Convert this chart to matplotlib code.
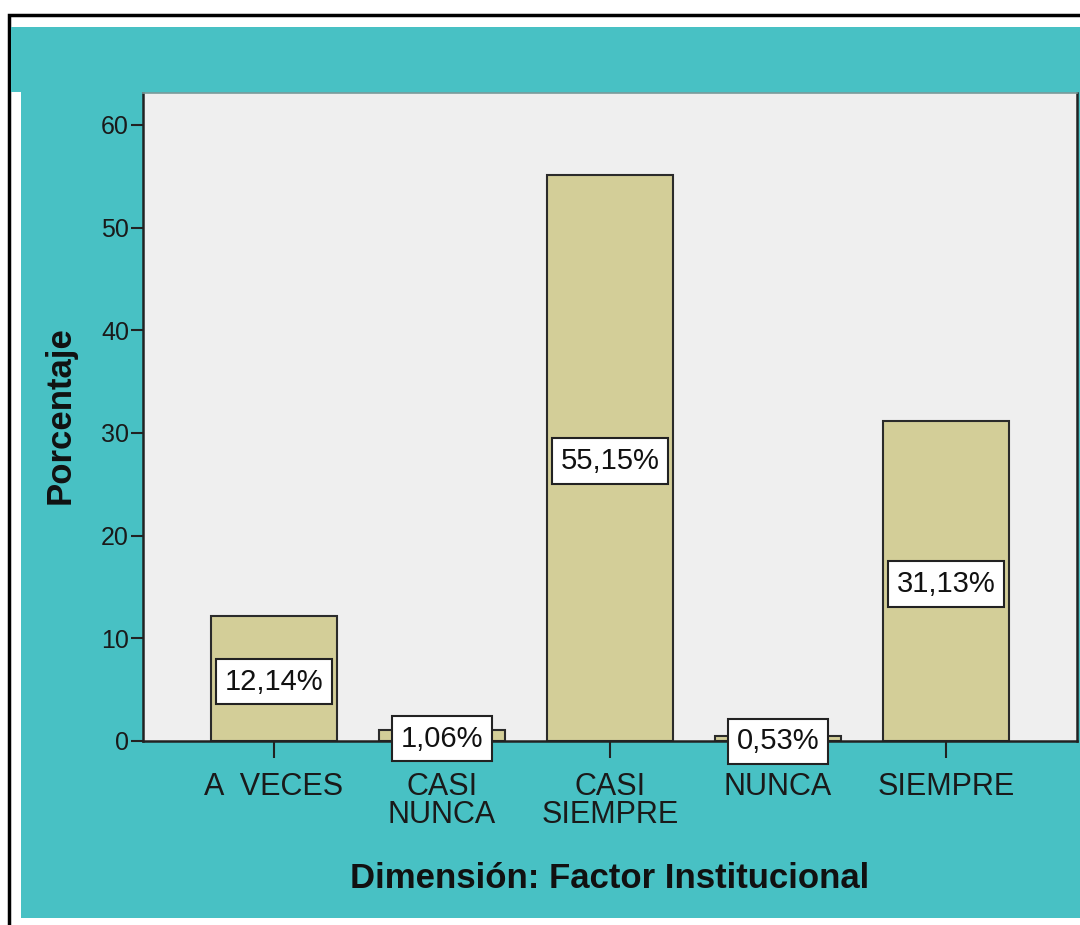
import matplotlib
matplotlib.use('Agg')
import matplotlib.pyplot as plt
from matplotlib.patches import Rectangle

# datos
categorias = ['A  VECES', 'CASI\nNUNCA', 'CASI\nSIEMPRE', 'NUNCA', 'SIEMPRE']
porcentajes = [12.14, 1.06, 55.15, 0.53, 31.13]
etiquetas = ['12,14%', '1,06%', '55,15%', '0,53%', '31,13%']
yticks = [0, 10, 20, 30, 40, 50, 60]

plt.rcParams['font.family'] = ['Liberation Sans', 'DejaVu Sans']

W, H = 1080, 925
teal = '#48c1c4'
fig = plt.figure(figsize=(W / 100, H / 100), dpi=100, facecolor='white')


def px_rect(x0, y0, x1, y1, **kw):
    # rectangulo en pixeles (origen arriba a la izquierda)
    return Rectangle((x0 / W, 1 - y1 / H), (x1 - x0) / W, (y1 - y0) / H,
                     transform=fig.transFigure, zorder=-10, **kw)


# marco negro exterior
fig.patches.append(px_rect(9, 15, 1090, 940, fc='none', ec='black', lw=2.5))
# fondo turquesa
fig.patches.append(px_rect(11, 27, 1080, 92, fc=teal, ec='none'))
fig.patches.append(px_rect(21, 92, 1080, 918, fc=teal, ec='none'))

ax = fig.add_axes([143 / W, 1 - 741 / H, (1077 - 143) / W, (741 - 93) / H])
ax.set_facecolor('#efefef')

x = list(range(len(categorias)))
ax.bar(x, porcentajes, width=0.745, color='#d3ce98', edgecolor='#2b2b2b', lw=1.5)

for xi, v, t in zip(x, porcentajes, etiquetas):
    ax.text(xi, v / 2 - 0.3, t, ha='center', va='center', fontsize=21, color='#111111',
            bbox=dict(boxstyle='square,pad=0.3', fc='white', ec='#222222', lw=1.5))

ax.set_xlim(-0.78, 4.78)
ax.set_ylim(0, 63.1)
ax.set_xticks(x)
ax.set_xticklabels(categorias, fontsize=22, color='#1a1a1a', linespacing=0.95)
ax.set_yticks(yticks)
ax.set_yticklabels([str(t) for t in yticks], fontsize=18, color='#1a1a1a')
ax.tick_params(axis='x', length=12, width=1.5, color='#222222', pad=10)
ax.tick_params(axis='y', length=9, width=1.5, color='#222222', pad=1)

for s in ['left', 'bottom', 'right']:
    ax.spines[s].set_color('#222222')
    ax.spines[s].set_linewidth(1.8)
ax.spines['top'].set_color('#7a9a9a')
ax.spines['top'].set_linewidth(1.2)

fig.text(60 / W, 1 - 415 / H, 'Porcentaje', rotation=90, ha='center', va='center',
         fontsize=25, fontweight='bold', color='#111111')
fig.text(610 / W, 1 - 878 / H, 'Dimensión: Factor Institucional', ha='center', va='center',
         fontsize=25, fontweight='bold', color='#111111')

fig.savefig('out.png', dpi=100, facecolor='white')
